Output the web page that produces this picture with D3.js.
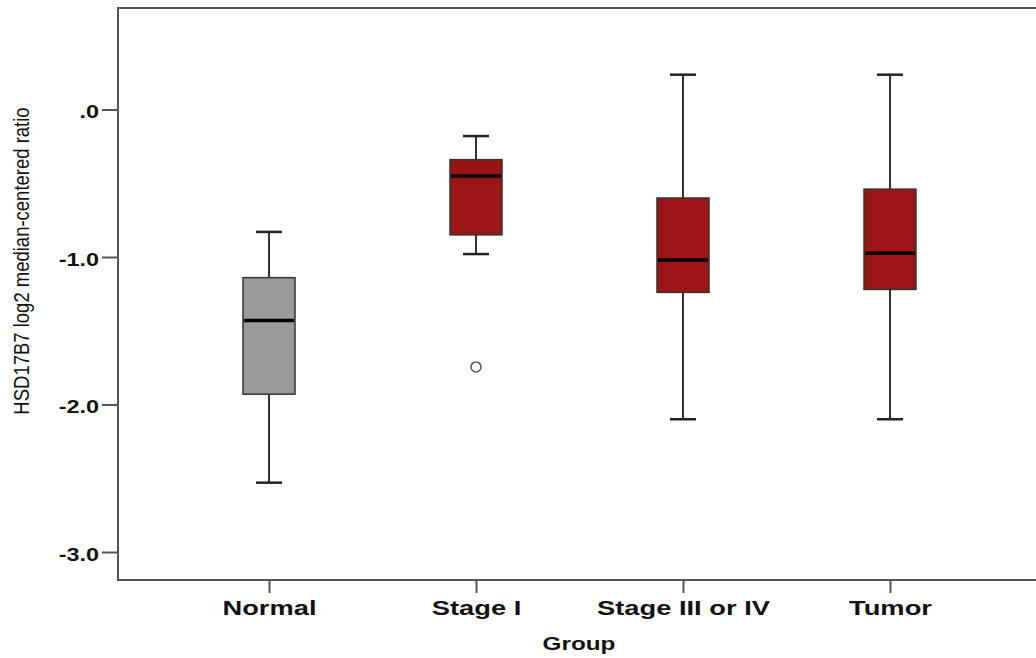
<!DOCTYPE html>
<html>
<head>
<meta charset="utf-8">
<script src="https://cdn.jsdelivr.net/npm/d3@7"></script>
<style>
  body { margin: 0; background: #fff; }
  svg { display: block; font-family: "Liberation Sans", Arial, sans-serif; }
</style>
</head>
<body>
<svg id="chart" width="1036" height="658"></svg>
<script>
// box statistics
var groups   = ["Normal", "Stage I", "Stage III or IV", "Tumor"];
var whiskLo  = [-2.53, -0.98, -2.10, -2.10];
var q1       = [-1.93, -0.85, -1.24, -1.22];
var medians  = [-1.43, -0.45, -1.02, -0.975];
var q3       = [-1.14, -0.34, -0.60, -0.54];
var whiskHi  = [-0.83, -0.18, 0.236, 0.236];
var outliers = [{ g: "Stage I", v: -1.745 }];
var fills    = ["#9a9a9a", "#9b1517", "#9b1517", "#9b1517"];
var yTicks   = [0, -1, -2, -3];

var svg = d3.select("#chart");
var frameL = 118, frameT = 8, frameB = 580, frameR = 1037;
var stretch = 1.3; // the original picture is widened horizontally

var y = d3.scaleLinear().domain([-3, 0]).range([552, 109.5]);
var x = d3.scalePoint().domain(groups).range([269, 890]);

var boxW = 52, capW = 26;

var data = groups.map(function (g, i) {
    return { g: g, lo: whiskLo[i], q1: q1[i], med: medians[i], q3: q3[i], hi: whiskHi[i], fill: fills[i] };
});

// frame
svg.append("rect")
    .attr("x", frameL).attr("y", frameT)
    .attr("width", frameR - frameL).attr("height", frameB - frameT)
    .attr("fill", "none").attr("stroke", "#555").attr("stroke-width", 2);

// y axis
var yAxis = d3.axisLeft(y).tickValues(yTicks).tickSize(16)
    .tickFormat(function (d) { return d === 0 ? ".0" : d.toFixed(1); });
var ya = svg.append("g").attr("transform", "translate(" + frameL + ",0)").call(yAxis);
ya.select(".domain").remove();
ya.selectAll("line").attr("stroke", "#555").attr("stroke-width", 2);
ya.selectAll("text")
    .attr("font-size", 18).attr("font-weight", "bold").attr("fill", "#111")
    .attr("x", -19 / stretch).attr("dy", "0.45em")
    .attr("transform", "scale(" + stretch + ",1)");

// x axis
var xAxis = d3.axisBottom(x).tickSize(13);
var xa = svg.append("g").attr("transform", "translate(0," + frameB + ")").call(xAxis);
xa.select(".domain").remove();
xa.selectAll("line").attr("stroke", "#555").attr("stroke-width", 2);
xa.selectAll("text")
    .attr("font-size", 21).attr("font-weight", "bold").attr("fill", "#111")
    .attr("y", 35).attr("dy", 0)
    .attr("transform", "scale(" + stretch + ",1)");

// axis titles
svg.append("text")
    .attr("transform", "translate(29,261) scale(1.15,1) rotate(-90)")
    .attr("text-anchor", "middle")
    .attr("font-size", 18.5)
    .attr("fill", "#111")
    .text("HSD17B7 log2 median-centered ratio");

svg.append("text")
    .attr("transform", "translate(579,650) scale(1.28,1)")
    .attr("text-anchor", "middle")
    .attr("font-size", 19).attr("font-weight", "bold")
    .attr("fill", "#111")
    .text("Group");

// boxes
var g = svg.selectAll("g.box").data(data).enter().append("g").attr("class", "box");

g.append("line")
    .attr("x1", function (d) { return x(d.g); }).attr("x2", function (d) { return x(d.g); })
    .attr("y1", function (d) { return y(d.hi); }).attr("y2", function (d) { return y(d.lo); })
    .attr("stroke", "#333").attr("stroke-width", 2);

g.selectAll("line.cap")
    .data(function (d) { return [{ x: x(d.g), v: d.hi }, { x: x(d.g), v: d.lo }]; })
    .enter().append("line").attr("class", "cap")
    .attr("x1", function (c) { return c.x - capW / 2; }).attr("x2", function (c) { return c.x + capW / 2; })
    .attr("y1", function (c) { return y(c.v); }).attr("y2", function (c) { return y(c.v); })
    .attr("stroke", "#222").attr("stroke-width", 2.5);

g.append("rect")
    .attr("x", function (d) { return x(d.g) - boxW / 2; })
    .attr("y", function (d) { return y(d.q3); })
    .attr("width", boxW)
    .attr("height", function (d) { return y(d.q1) - y(d.q3); })
    .attr("fill", function (d) { return d.fill; })
    .attr("stroke", "#333").attr("stroke-width", 1.5);

g.append("line")
    .attr("x1", function (d) { return x(d.g) - boxW / 2 + 1; })
    .attr("x2", function (d) { return x(d.g) + boxW / 2 - 1; })
    .attr("y1", function (d) { return y(d.med); }).attr("y2", function (d) { return y(d.med); })
    .attr("stroke", "#000").attr("stroke-width", 3.5);

// outliers
svg.selectAll("circle.out").data(outliers).enter().append("circle")
    .attr("class", "out")
    .attr("cx", function (d) { return x(d.g); })
    .attr("cy", function (d) { return y(d.v); })
    .attr("r", 5)
    .attr("fill", "#fff").attr("stroke", "#555").attr("stroke-width", 1.5);
</script>
</body>
</html>
